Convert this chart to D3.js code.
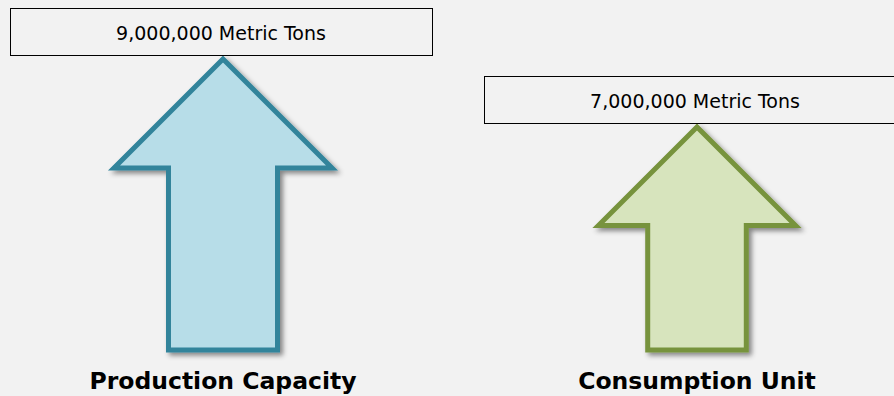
<!DOCTYPE html>
<html>
<head>
<meta charset="utf-8">
<script src="https://cdn.jsdelivr.net/npm/d3@7"></script>
<style>
  html, body { margin: 0; padding: 0; background: #f2f2f2; }
  svg { display: block; }
  .box_text { font-family: "DejaVu Sans", Verdana, sans-serif; font-size: 19px; fill: #000; }
  .cat_text { font-family: "DejaVu Sans", Verdana, sans-serif; font-size: 23.5px; font-weight: bold; fill: #000; }
</style>
</head>
<body>
<div id="graphic"></div>
<script>
// chart data
const categories = ['Production Capacity', 'Consumption Unit'];
const values = [9000000, 7000000];
const unitLabel = 'Metric Tons';
const fills = ['#b7dde8', '#d7e4bd'];
const strokes = ['#31849b', '#77933c'];

const width = 894;
const height = 396;
const baseline = 350;

const svg = d3.select('#graphic').append('svg')
  .attr('width', width)
  .attr('height', height);

svg.append('rect')
  .attr('width', width)
  .attr('height', height)
  .attr('fill', '#f2f2f2');

// drop shadow for the arrows
const defs = svg.append('defs');
const shadow = defs.append('filter')
  .attr('id', 'shadow')
  .attr('x', '-20%').attr('y', '-20%')
  .attr('width', '140%').attr('height', '140%');
shadow.append('feDropShadow')
  .attr('dx', 3).attr('dy', 3)
  .attr('stdDeviation', 2.5)
  .attr('flood-color', '#000')
  .attr('flood-opacity', 0.45);

// scales
const x = d3.scalePoint()
  .domain(categories)
  .range([223, 697]);

const y = d3.scaleLinear()
  .domain([0, d3.max(values)])
  .range([365, 59]);

// arrow head half width grows with the value
const headW = d3.scalePow().exponent(0.4)
  .domain([0, d3.max(values)])
  .range([0, 109]);

const data = categories.map((c, i) => ({ category: c, value: values[i], fill: fills[i], stroke: strokes[i] }));

const arrowPath = (d) => {
  const cx = x(d.category);
  const tip = y(d.value);
  const hw = headW(d.value);
  const sw = hw * 0.5;
  const headBase = tip + hw;
  const p = d3.path();
  p.moveTo(cx, tip);
  p.lineTo(cx + hw, headBase);
  p.lineTo(cx + sw, headBase);
  p.lineTo(cx + sw, baseline);
  p.lineTo(cx - sw, baseline);
  p.lineTo(cx - sw, headBase);
  p.lineTo(cx - hw, headBase);
  p.closePath();
  return p.toString();
};

svg.selectAll('.arrow')
  .data(data)
  .enter().append('path')
  .attr('class', 'arrow')
  .attr('d', arrowPath)
  .attr('fill', d => d.fill)
  .attr('stroke', d => d.stroke)
  .attr('stroke-width', 5)
  .attr('stroke-linejoin', 'miter')
  .attr('filter', 'url(#shadow)');

// value boxes above the arrow tips
const boxW = 422;
const boxH = 47;

const boxes = svg.selectAll('.value_box')
  .data(data)
  .enter().append('g')
  .attr('class', 'value_box')
  .attr('transform', d => 'translate(' + (x(d.category) - 2) + ',' + (y(d.value) - 4 - boxH) + ')');

boxes.append('rect')
  .attr('x', -boxW / 2 + 0.5)
  .attr('y', 0.5)
  .attr('width', boxW)
  .attr('height', boxH)
  .attr('fill', '#f2f2f2')
  .attr('stroke', '#000')
  .attr('stroke-width', 1);

boxes.append('text')
  .attr('class', 'box_text')
  .attr('x', 0)
  .attr('y', boxH / 2 + 8)
  .attr('text-anchor', 'middle')
  .text(d => d3.format(',')(d.value) + ' ' + unitLabel);

// category labels
svg.selectAll('.cat_text')
  .data(data)
  .enter().append('text')
  .attr('class', 'cat_text')
  .attr('x', d => x(d.category))
  .attr('y', 389)
  .attr('text-anchor', 'middle')
  .text(d => d.category);
</script>
</body>
</html>
